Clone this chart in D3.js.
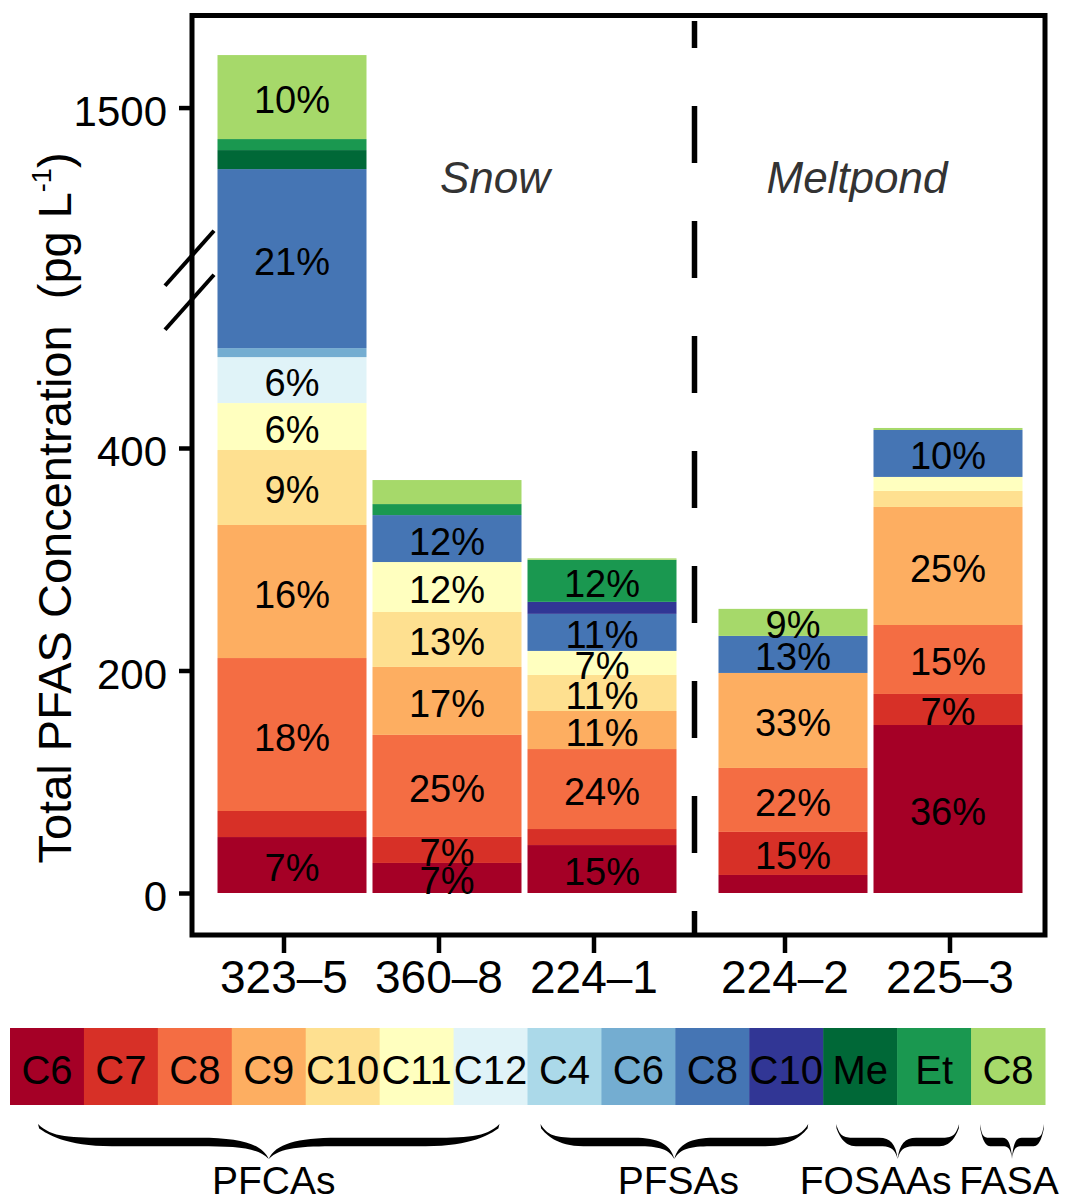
<!DOCTYPE html>
<html>
<head>
<meta charset="utf-8">
<script src="https://cdn.jsdelivr.net/npm/d3@7"></script>
<style>
  html, body { margin: 0; padding: 0; background: #fff; }
  svg { display: block; font-family: "Liberation Sans", Arial, Helvetica, sans-serif; }
</style>
</head>
<body>
<script>
// ---------------- DATA ----------------
const compounds = ["PFCA C6","PFCA C7","PFCA C8","PFCA C9","PFCA C10","PFCA C11","PFCA C12",
                   "PFSA C4","PFSA C6","PFSA C8","PFSA C10","FOSAA Me","FOSAA Et","FASA C8"];
const legendLabels = ["C6","C7","C8","C9","C10","C11","C12","C4","C6","C8","C10","Me","Et","C8"];
const colors = ["#a50026","#d73027","#f46d43","#fdae61","#fee090","#ffffbf","#e0f3f8",
                "#abd9e9","#74add1","#4575b4","#313695","#006837","#1a9850","#a6d96a"];

const snowSamples = ["323–5","360–8","224–1"];
const meltSamples = ["224–2","225–3"];
const groupNames = ["Snow","Meltpond"];

// concentrations (pg/L, as drawn) per compound, same order as `compounds`
const v323_5 = [50.3, 23.4, 137.5, 119.6, 67.4, 42.2, 41.3, 0, 8.1, 160.9, 0, 17.1, 9.9, 75.5];
const v360_8 = [27.0, 23.4, 91.7, 61.1, 49.4, 44.9, 0, 0, 0, 42.2, 0, 0, 9.9, 21.6];
const v224_1 = [43.1, 14.4, 71.9, 34.2, 32.4, 21.6, 0, 0, 0, 33.3, 10.8, 0, 37.8, 1.3];
const v224_2 = [16.2, 38.7, 57.5, 85.4, 0, 0, 0, 0, 0, 33.3, 0, 0, 0, 24.3];
const v225_3 = [151.0, 27.9, 62.0, 106.1, 14.4, 12.6, 0, 0, 0, 42.2, 0, 0, 0, 1.8];

// percentage labels shown in segments
const l323_5 = ["7%","","18%","16%","9%","6%","6%","","","21%","","","","10%"];
const l360_8 = ["7%","7%","25%","17%","13%","12%","","","","12%","","","",""];
const l224_1 = ["15%","","24%","11%","11%","7%","","","","11%","","","12%",""];
const l224_2 = ["","15%","22%","33%","","","","","","13%","","","","9%"];
const l225_3 = ["36%","7%","15%","25%","","","","","","10%","","","",""];

const yTickValues = [0, 200, 400, 1500];
const yBreak = [553, 1347];   // axis break: values between are cut out

const braceGroups = ["PFCAs","PFSAs","FOSAAs","FASA"];
const braceFrom = [0, 7, 11, 13];
const braceTo   = [6, 10, 12, 13];

// ---------------- LAYOUT ----------------
const W = 1065, H = 1203;
const svg = d3.select("body").append("svg").attr("width", W).attr("height", H);
svg.append("rect").attr("width", W).attr("height", H).attr("fill", "#fff");

const panel = {x0: 192, y0: 15.5, x1: 1045, y1: 935};
const y = d3.scaleLinear().domain([0, 400]).range([893, 448]);
const gap = yBreak[1] - yBreak[0];
const yAxisScale = d3.scaleLinear()
  .domain([0, yBreak[0], yBreak[1], 1800])
  .range([y(0), y(yBreak[0]), y(yBreak[0]), y(1800 - gap)]);

const p = 6 / 155;
const xSnow = d3.scaleBand().domain(snowSamples).range([214.5, 679.5]).paddingInner(p).paddingOuter(p / 2);
const xMelt = d3.scaleBand().domain(meltSamples).range([715.5, 1025.5]).paddingInner(p).paddingOuter(p / 2);
const xTickSnow = d3.scalePoint().domain(snowSamples).range([284, 594]);
const xTickMelt = d3.scalePoint().domain(meltSamples).range([785, 950]);

const rows = [
  {sample: "323–5", vals: v323_5, labels: l323_5, x: xSnow, xt: xTickSnow},
  {sample: "360–8", vals: v360_8, labels: l360_8, x: xSnow, xt: xTickSnow},
  {sample: "224–1", vals: v224_1, labels: l224_1, x: xSnow, xt: xTickSnow},
  {sample: "224–2", vals: v224_2, labels: l224_2, x: xMelt, xt: xTickMelt},
  {sample: "225–3", vals: v225_3, labels: l225_3, x: xMelt, xt: xTickMelt}
];
const table = rows.map(r => { const o = {sample: r.sample}; r.vals.forEach((v, i) => o[i] = v); return o; });
const stack = d3.stack().keys(d3.range(compounds.length));
const series = stack(table);

// ---------------- BARS ----------------
const gBars = svg.append("g");
series.forEach((s, ci) => {
  s.forEach((d, ri) => {
    const r = rows[ri];
    if (d[1] - d[0] <= 0) return;
    gBars.append("rect")
      .attr("x", r.x(r.sample))
      .attr("width", r.x.bandwidth())
      .attr("y", y(d[1]))
      .attr("height", y(d[0]) - y(d[1]))
      .attr("fill", colors[ci]);
  });
});
// labels
series.forEach((s, ci) => {
  s.forEach((d, ri) => {
    const r = rows[ri];
    const lab = r.labels[ci];
    if (!lab) return;
    gBars.append("text")
      .attr("x", r.x(r.sample) + r.x.bandwidth() / 2)
      .attr("y", (y(d[0]) + y(d[1])) / 2 + 3)
      .attr("text-anchor", "middle")
      .attr("dominant-baseline", "central")
      .attr("font-size", 38)
      .attr("fill", "#000")
      .text(lab);
  });
});

// ---------------- PANEL / AXES ----------------
svg.append("rect")
  .attr("x", panel.x0).attr("y", panel.y0)
  .attr("width", panel.x1 - panel.x0).attr("height", panel.y1 - panel.y0)
  .attr("fill", "none").attr("stroke", "#000").attr("stroke-width", 5);

// dashed separator
svg.append("line")
  .attr("x1", 694.5).attr("x2", 694.5)
  .attr("y1", 21).attr("y2", panel.y1)
  .attr("stroke", "#000").attr("stroke-width", 5.5)
  .attr("stroke-dasharray", "57 58").attr("stroke-dashoffset", 30);

// y axis
const yAxis = d3.axisLeft(yAxisScale).tickValues(yTickValues).tickSize(13).tickPadding(12)
  .tickFormat(d3.format("d"));
const gy = svg.append("g").attr("transform", `translate(${panel.x0},0)`).call(yAxis);
gy.select(".domain").remove();
gy.selectAll(".tick line").attr("stroke", "#000").attr("stroke-width", 4.5);
gy.selectAll(".tick text").attr("font-size", 42).attr("fill", "#000")
  .attr("font-family", "Liberation Sans, Arial, sans-serif").attr("dy", "0.42em");

// axis break marks
const yb = y(yBreak[0]);
[-22, 22].forEach(off => {
  svg.append("line")
    .attr("x1", panel.x0 - 27).attr("y1", yb + off + 30)
    .attr("x2", panel.x0 + 22).attr("y2", yb + off - 25)
    .attr("stroke", "#000").attr("stroke-width", 4);
});

// x axis ticks & labels
rows.forEach(r => {
  const xt = r.xt(r.sample);
  svg.append("line").attr("x1", xt).attr("x2", xt).attr("y1", panel.y1).attr("y2", 953)
    .attr("stroke", "#000").attr("stroke-width", 4.5);
  svg.append("text").attr("x", xt).attr("y", 993).attr("text-anchor", "middle")
    .attr("font-size", 46).attr("fill", "#000").text(r.sample);
});

// y title
const yt = svg.append("text")
  .attr("transform", "translate(71,508) rotate(-90)")
  .attr("text-anchor", "middle")
  .attr("font-size", 47).attr("fill", "#000");
yt.append("tspan").text("Total PFAS Concentration\u00a0\u00a0(pg L");
yt.append("tspan").attr("font-size", 27).attr("dy", -20).text("-1");
yt.append("tspan").attr("dy", 20).text(")");

// group labels
const groupX = [495, 857];
groupNames.forEach((g, i) => {
  svg.append("text").attr("x", groupX[i]).attr("y", 193).attr("text-anchor", "middle")
    .attr("font-size", 44).attr("font-style", "italic").attr("fill", "#333").text(g);
});

// ---------------- LEGEND ----------------
const lx = d3.scaleBand().domain(d3.range(compounds.length)).range([10, 1045]);
const gl = svg.append("g");
compounds.forEach((c, i) => {
  gl.append("rect").attr("x", lx(i)).attr("y", 1028).attr("width", lx.bandwidth() + 0.5)
    .attr("height", 77).attr("fill", colors[i]);
  gl.append("text").attr("x", lx(i) + lx.bandwidth() / 2).attr("y", 1069.5)
    .attr("text-anchor", "middle").attr("dominant-baseline", "central")
    .attr("font-size", 40).attr("fill", "#000").text(legendLabels[i]);
});

// braces
const bracePad = [[28, 28], [13, 15], [13, 12], [9, 1]];
const labelDx = [5, 4, -22, -3];
function halfBrace(xa, xm, y0, yb, ytip, t) {
  const X = u => xa + (xm - xa) * u;
  return `M${X(0)},${y0}` +
    `C${X(0.06)},${yb - t / 2} ${X(0.14)},${yb - t / 2} ${X(0.32)},${yb - t / 2}` +
    `L${X(0.7)},${yb - t / 2}` +
    `C${X(0.88)},${yb - t / 2} ${X(0.97)},${yb + 2} ${X(1)},${ytip}` +
    `C${X(0.95)},${yb + t / 2 + 1} ${X(0.86)},${yb + t / 2} ${X(0.7)},${yb + t / 2}` +
    `L${X(0.32)},${yb + t / 2}` +
    `C${X(0.12)},${yb + t / 2} ${X(0.04)},${y0 + 10} ${X(0.005)},${y0 + 4.5}Z`;
}
braceGroups.forEach((g, i) => {
  const xa = lx(braceFrom[i]) + bracePad[i][0];
  const xb = lx(braceTo[i]) + lx.bandwidth() - bracePad[i][1];
  const xm = (xa + xb) / 2;
  [xa, xb].forEach(e => {
    svg.append("path").attr("d", halfBrace(e, xm, 1124, 1142, 1159, 8.5)).attr("fill", "#000");
  });
  svg.append("text").attr("x", xm + labelDx[i]).attr("y", 1194).attr("text-anchor", "middle")
    .attr("font-size", 39).attr("fill", "#000").text(g);
});
</script>
</body>
</html>
